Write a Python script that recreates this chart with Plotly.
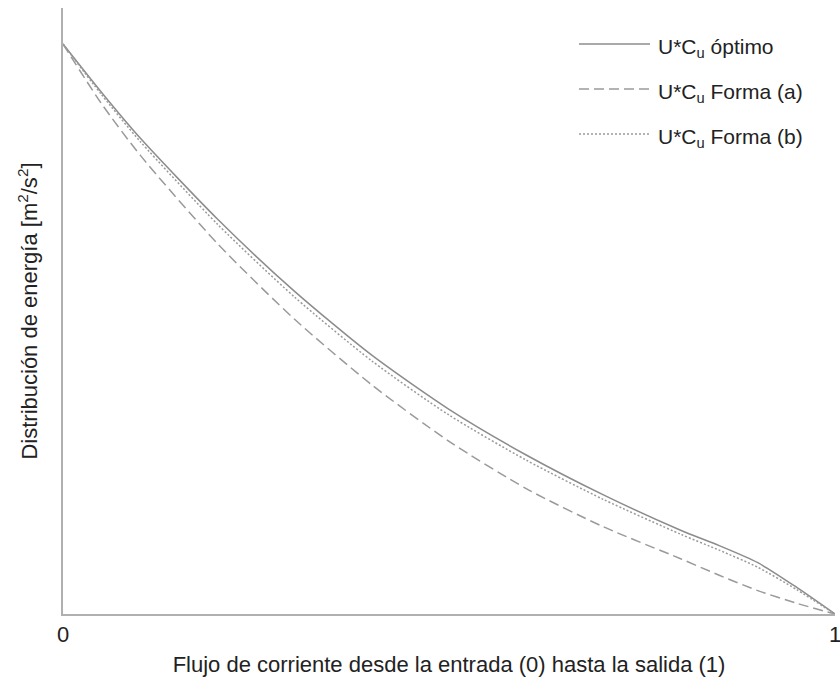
import plotly.graph_objects as go

# ---- data ----
x_flow = [0, 0.05, 0.1, 0.2, 0.3, 0.4, 0.5, 0.6, 0.7, 0.8, 0.85, 0.9, 0.95, 1.0]
y_optimo = [1.0, 0.915, 0.835, 0.693, 0.566, 0.454, 0.359, 0.279, 0.209, 0.147, 0.120, 0.090, 0.047, 0.0]
y_forma_a = [1.0, 0.895, 0.805, 0.650, 0.517, 0.402, 0.303, 0.220, 0.153, 0.097, 0.068, 0.041, 0.019, 0.0]
y_forma_b = [1.0, 0.911, 0.829, 0.684, 0.556, 0.444, 0.349, 0.270, 0.201, 0.140, 0.112, 0.082, 0.043, 0.0]

series_names = ["U*C<sub>u</sub> óptimo", "U*C<sub>u</sub> Forma (a)", "U*C<sub>u</sub> Forma (b)"]
series_values = [y_optimo, y_forma_a, y_forma_b]
series_colors = ["#8c8c8c", "#9a9a9a", "#9a9a9a"]
series_dash = ["solid", "10px,5px", "2px,2px"]

x_tick_vals = [0, 1]
x_tick_text = ["0", "1"]
x_title = "Flujo de corriente desde la entrada (0) hasta la salida (1)"
y_title = "Distribución de energía [m<sup>2</sup>/s<sup>2</sup>]"

W, H = 840, 677
ML, MR, MT, MB = 63, 5, 8, 63
PW, PH = W - ML - MR, H - MT - MB

fig = go.Figure()
for name, vals, col, dash in zip(series_names, series_values, series_colors, series_dash):
    fig.add_trace(go.Scatter(
        x=x_flow, y=vals, mode="lines", name=name, showlegend=False,
        line=dict(color=col, width=1.5, dash=dash, shape="spline", smoothing=0.7),
    ))

# manual legend (long line samples as in the reference)
def px_x(px):
    return (px - ML) / PW

def px_y(py):
    return (H - MB - py) / PH

legend_rows = [44, 89, 134]
for name, col, dash, ry in zip(series_names, series_colors, series_dash, legend_rows):
    fig.add_shape(type="line", xref="paper", yref="paper",
                  x0=px_x(579), x1=px_x(650), y0=px_y(ry), y1=px_y(ry),
                  line=dict(color=col, width=1.5, dash=dash))
    fig.add_annotation(xref="paper", yref="paper", x=px_x(656), y=px_y(ry),
                       xanchor="left", yanchor="middle", yshift=-4,
                       text=name, showarrow=False,
                       font=dict(family="Liberation Sans, Arial", size=21, color="#222"))

fig.update_layout(
    width=W, height=H,
    margin=dict(l=ML, r=MR, t=MT, b=MB),
    paper_bgcolor="white", plot_bgcolor="white",
    font=dict(family="Liberation Sans, Arial", size=22, color="#222"),
    showlegend=False,
)
fig.update_xaxes(
    range=[0, 1], tickvals=x_tick_vals, ticktext=x_tick_text,
    showline=True, linecolor="#b0b0b0", linewidth=2, showgrid=False, zeroline=False,
    ticks="", tickfont=dict(size=22), ticklabeloverflow="allow",
    title=dict(text=x_title, font=dict(size=22), standoff=12),
    automargin=False,
)
fig.update_yaxes(
    range=[0, 606 / 570], showticklabels=False,
    showline=True, linecolor="#b0b0b0", linewidth=2, showgrid=False, zeroline=False,
    ticks="",
    title=dict(text=y_title, font=dict(size=22), standoff=17),
    automargin=False,
)

fig.write_html("out.html", config={"displayModeBar": False},
               post_script="document.body.style.margin='0';document.body.style.overflow='hidden';")
